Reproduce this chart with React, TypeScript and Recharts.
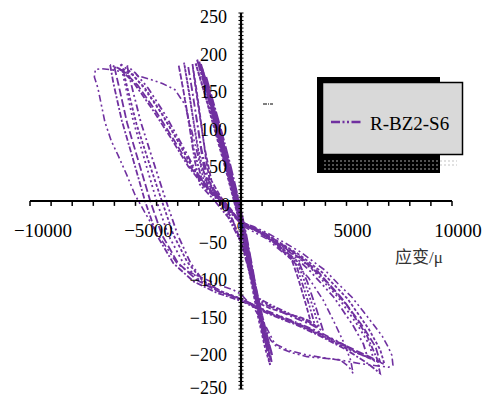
import React from "react";
import { ComposedChart, Line, XAxis, YAxis, ReferenceLine, ReferenceDot } from "recharts";

type Pt = [number, number];

const purple = "#7030A0";
const serif = "Liberation Serif, DejaVu Serif, Times New Roman, serif";

const xTickLabels = [-10000, -5000, 0, 5000, 10000];
const yTickLabels = [250, 200, 150, 100, 50, 0, -50, -100, -150, -200, -250];

// steep band: small cycles
const s1: Pt[] = [[-1650,165],[-1300,130],[-900,90],[-480,45],[-100,0],[250,-45],[580,-95],[880,-145],[1100,-185],[1000,-172],[760,-140],[430,-95],[110,-50],[-250,0],[-650,48],[-1080,95],[-1450,138],[-1650,165]];
const s2: Pt[] = [[-1850,177],[-1500,145],[-1000,95],[-560,48],[-150,0],[220,-48],[560,-100],[900,-150],[1250,-198],[1150,-185],[850,-148],[480,-100],[120,-52],[-260,0],[-700,50],[-1180,100],[-1620,150],[-1850,177]];
const s3: Pt[] = [[-1980,185],[-1620,150],[-1100,100],[-620,50],[-180,0],[200,-50],[540,-100],[920,-152],[1280,-195],[1380,-208],[1260,-192],[900,-148],[500,-100],[130,-52],[-280,0],[-760,52],[-1250,104],[-1720,158],[-1980,185]];
const s4: Pt[] = [[-2080,188],[-1700,152],[-1160,102],[-680,52],[-220,0],[170,-48],[520,-100],[900,-150],[1250,-192],[1450,-214],[1330,-196],[950,-150],[560,-100],[180,-50],[-240,0],[-720,50],[-1220,102],[-1780,160],[-2080,188]];
const s5: Pt[] = [[-1900,182],[-1560,148],[-1060,98],[-580,48],[-120,0],[260,-50],[600,-102],[960,-152],[1300,-188],[1480,-205],[1350,-192],[1000,-152],[620,-104],[230,-52],[-200,0],[-640,46],[-1120,96],[-1640,152],[-1900,182]];
const s6: Pt[] = [[-2150,183],[-1800,150],[-1300,104],[-820,55],[-350,4],[60,-45],[420,-98],[780,-150],[1150,-196],[1380,-218],[1250,-200],[850,-150],[460,-98],[90,-45],[-330,0],[-800,50],[-1320,102],[-1850,156],[-2150,183]];

// middle cycles
const m1: Pt[] = [[-2950,180],[-2720,145],[-2450,100],[-2200,55],[-1950,22],[-1300,2],[-600,-22],[0,-55],[400,-95],[750,-128],[1400,-138],[2300,-150],[3000,-158],[3500,-165],[3250,-140],[2850,-105],[2550,-80],[1600,-55],[700,-38],[0,-29],[-600,-9],[-1250,8],[-1850,28],[-2250,70],[-2550,118],[-2800,158],[-2950,180]];
const m2: Pt[] = [[-2700,184],[-2480,148],[-2230,102],[-1980,57],[-1750,24],[-1150,3],[-500,-24],[50,-58],[430,-97],[780,-130],[1450,-140],[2400,-152],[3150,-160],[3700,-168],[3420,-142],[3000,-106],[2650,-80],[1650,-56],[750,-39],[0,-30],[-550,-10],[-1150,7],[-1700,28],[-2050,72],[-2330,120],[-2570,162],[-2700,184]];
const m3: Pt[] = [[-2500,178],[-2300,145],[-2060,100],[-1820,55],[-1600,22],[-1000,2],[-400,-25],[100,-62],[470,-100],[820,-133],[1500,-142],[2500,-155],[3300,-164],[3900,-173],[3600,-146],[3150,-108],[2750,-82],[1700,-57],[800,-40],[0,-31],[-500,-11],[-1050,6],[-1550,28],[-1880,70],[-2150,118],[-2380,158],[-2500,178]];
const m4: Pt[] = [[-2300,182],[-2110,148],[-1880,102],[-1660,56],[-1450,22],[-900,0],[-350,-28],[150,-66],[500,-104],[850,-136],[1400,-143],[2200,-150],[2850,-155],[3300,-160],[3050,-135],[2700,-102],[2400,-78],[1500,-54],[650,-38],[0,-30],[-450,-12],[-950,5],[-1400,27],[-1720,70],[-1980,118],[-2200,160],[-2300,182]];

// big cycles
const b1: Pt[] = [[-5400,180],[-5200,155],[-4750,105],[-4150,52],[-3550,0],[-3000,-45],[-2400,-82],[-1800,-106],[-900,-121],[0,-131],[1200,-146],[2500,-160],[3700,-174],[4800,-190],[5500,-202],[6000,-208],[5800,-190],[5300,-165],[4400,-128],[3300,-94],[2400,-70],[1100,-44],[0,-29],[-700,-8],[-1400,12],[-2100,38],[-2800,75],[-3600,115],[-4400,150],[-5000,170],[-5400,180]];
const b2: Pt[] = [[-5700,182],[-5500,156],[-5100,106],[-4550,53],[-4000,0],[-3450,-45],[-2750,-82],[-1950,-106],[-1000,-121],[0,-132],[1200,-148],[2500,-162],[3700,-177],[4900,-193],[5800,-205],[6300,-212],[6100,-192],[5550,-166],[4600,-128],[3450,-93],[2500,-70],[1150,-44],[0,-28],[-750,-6],[-1500,15],[-2250,42],[-3000,80],[-3800,118],[-4650,152],[-5250,172],[-5700,182]];
const b3: Pt[] = [[-6000,178],[-5800,154],[-5400,104],[-4850,52],[-4300,0],[-3750,-45],[-3000,-82],[-2100,-105],[-1100,-120],[0,-130],[1250,-147],[2600,-162],[3800,-177],[5000,-193],[6000,-206],[6590,-214],[6380,-194],[5800,-168],[4800,-130],[3650,-94],[2650,-71],[1200,-44],[0,-27],[-800,-5],[-1600,17],[-2400,45],[-3200,82],[-4050,120],[-4900,154],[-5550,172],[-6000,178]];
const b4: Pt[] = [[-6200,181],[-6050,157],[-5650,107],[-5100,54],[-4550,0],[-4000,-45],[-3200,-83],[-2250,-107],[-1150,-122],[0,-133],[1300,-150],[2650,-165],[3850,-181],[5000,-198],[6000,-216],[6590,-229],[6450,-210],[5950,-178],[5000,-138],[3800,-100],[2750,-75],[1250,-47],[0,-30],[-850,-6],[-1650,16],[-2500,46],[-3350,85],[-4250,124],[-5100,158],[-5750,176],[-6200,181]];
const b5: Pt[] = [[-5600,176],[-5400,152],[-4950,102],[-4350,50],[-3750,0],[-3200,-45],[-2550,-81],[-1850,-105],[-950,-120],[0,-130],[1250,-148],[2600,-163],[3800,-179],[5000,-196],[6100,-209],[6800,-217],[6600,-198],[6050,-170],[5050,-130],[3850,-95],[2800,-72],[1250,-45],[0,-29],[-700,-7],[-1450,14],[-2200,40],[-2950,78],[-3750,116],[-4550,150],[-5150,168],[-5600,176]];

// outermost loop and first large excursion
const x1: Pt[] = [[0,-28],[-800,-2],[-1500,22],[-2000,55],[-2350,95],[-2650,128],[-3130,148],[-3700,156],[-4220,161],[-4800,166],[-5360,170],[-6000,174],[-6600,176],[-6900,175],[-6950,165],[-6780,150],[-6620,128],[-6450,105],[-6150,80],[-5830,61],[-5420,35],[-5020,8],[-4500,-18],[-3980,-43],[-3500,-63],[-3030,-83],[-2500,-94],[-1940,-101],[-1200,-110],[-380,-118],[0,-124],[600,-142],[1200,-168],[1600,-190],[2200,-198],[3000,-204],[3800,-208],[4800,-212],[5600,-216],[6400,-219],[7000,-221],[7200,-218],[7150,-205],[6970,-194],[6700,-180],[6350,-167],[5800,-147],[5260,-128],[4600,-110],[3980,-92],[3400,-80],[2890,-69],[2100,-56],[1280,-43],[600,-34],[0,-28]];
const x2: Pt[] = [[-1900,180],[-1000,95],[-200,0],[500,-100],[1000,-160],[1400,-185],[1700,-194],[2420,-202],[3130,-207],[3900,-209],[4690,-211],[5100,-220],[5310,-229],[5200,-212],[4900,-190],[4400,-160],[3900,-132],[3200,-102],[2400,-78],[1200,-50],[0,-32]];

const series: { id: string; pts: Pt[]; dash: string; w: number }[] = [
  { id: "b1", pts: b1, dash: "7 3 2 3 2 3", w: 1.8 },
  { id: "b2", pts: b2, dash: "2 3", w: 1.8 },
  { id: "b3", pts: b3, dash: "8 3", w: 1.8 },
  { id: "b4", pts: b4, dash: "6 2 2 2", w: 1.8 },
  { id: "b5", pts: b5, dash: "3 2", w: 1.8 },
  { id: "x1", pts: x1, dash: "7 3 2 3 2 3", w: 1.6 },
  { id: "x2", pts: x2, dash: "7 3 2 3 2 3", w: 1.6 },
  { id: "m1", pts: m1, dash: "6 2 2 2 2 2", w: 1.8 },
  { id: "m2", pts: m2, dash: "2 2", w: 1.8 },
  { id: "m3", pts: m3, dash: "8 3 2 3", w: 1.8 },
  { id: "m4", pts: m4, dash: "5 2", w: 1.8 },
  { id: "s1", pts: s1, dash: "12 2 2 2", w: 2 },
  { id: "s2", pts: s2, dash: "12 2 2 2", w: 2 },
  { id: "s3", pts: s3, dash: "10 2", w: 2 },
  { id: "s4", pts: s4, dash: "12 2 2 2", w: 2 },
  { id: "s5", pts: s5, dash: "10 2", w: 2 },
  { id: "s6", pts: s6, dash: "3 2", w: 2 },
];

const xMinor = Array.from({ length: 21 }, (_, i) => -10000 + i * 1000);
const yMinor = Array.from({ length: 101 }, (_, i) => -250 + i * 5);

const fmt = (v: number) => (v < 0 ? "\u2212" + Math.abs(v) : String(v));

const textStyle = { fontFamily: serif };

export default function App() {
  return (
    <div style={{ position: "relative", width: 474, height: 390, background: "#fff" }}>
      <ComposedChart
        width={474}
        height={390}
        margin={{ top: 5, right: 30, bottom: 9, left: 22 }}
        style={{ overflow: "visible" }}
      >
        <XAxis type="number" dataKey="x" domain={[-10000, 10000]} hide allowDataOverflow />
        <YAxis type="number" dataKey="y" domain={[-250, 250]} hide allowDataOverflow />
        {series.map((s) => (
          <Line
            key={s.id}
            data={s.pts.map(([x, y]) => ({ x, y }))}
            dataKey="y"
            type="linear"
            stroke={purple}
            strokeWidth={s.w}
            strokeDasharray={s.dash}
            dot={false}
            activeDot={false}
            isAnimationActive={false}
          />
        ))}
        <ReferenceLine x={0} stroke="#000" strokeWidth={2.2} />
        <ReferenceLine y={0} stroke="#000" strokeWidth={2.2} />
        {xMinor.map((v) => (
          <ReferenceLine key={"xt" + v} segment={[{ x: v, y: 0 }, { x: v, y: -6.5 }]} stroke="#000" strokeWidth={1.5} />
        ))}
        {yMinor.map((v) => (
          <ReferenceLine key={"yt" + v} segment={[{ x: -120, y: v }, { x: 120, y: v }]} stroke="#000" strokeWidth={1} />
        ))}
        {xTickLabels.map((v) => (
          <ReferenceDot
            key={"xl" + v}
            x={v}
            y={0}
            r={0}
            shape={(p: any) => (
              <text
                x={p.cx + (v < 0 ? 13 : v === 0 ? -1 : 6)}
                y={p.cy + (v === 0 ? 29 : 36)}
                textAnchor="middle"
                style={textStyle}
                fontSize={v === 0 ? 12 : 19}
                fill="#000"
              >
                {fmt(v)}
              </text>
            )}
          />
        ))}
        {yTickLabels.map((v) => (
          <ReferenceDot
            key={"yl" + v}
            x={0}
            y={v}
            r={0}
            shape={(p: any) => (
              <text
                x={p.cx - (v === 0 ? 11 : 14)}
                y={p.cy + (v === -250 ? 5 : 10)}
                textAnchor="end"
                style={textStyle}
                fontSize={18}
                fill="#000"
              >
                {fmt(v)}
              </text>
            )}
          />
        ))}
      </ComposedChart>
      <svg width={474} height={390} style={{ position: "absolute", left: 0, top: 0, pointerEvents: "none" }}>
        <defs>
          <pattern id="dots" width="4" height="4" patternUnits="userSpaceOnUse">
            <rect width="4" height="4" fill="#000" />
            <circle cx="1" cy="1" r="0.8" fill="#bbb" />
          </pattern>
          <pattern id="dots2" width="4" height="4" patternUnits="userSpaceOnUse">
            <circle cx="1" cy="1" r="0.7" fill="#aaa" />
          </pattern>
        </defs>
        <rect x={309} y={69} width={123} height={96} fill="#000" />
        <rect x={314} y={150} width={118} height={12} fill="url(#dots)" />
        <rect x={432} y={150} width={17} height={10} fill="url(#dots2)" />
        <rect x={314.5} y={74.5} width={140} height={72} fill="#d9d9d9" stroke="#000" strokeWidth={1.5} />
        <line x1={323} y1={114} x2={355} y2={114} stroke={purple} strokeWidth={2.5} strokeDasharray="9 2.5 2 2.5 2 2.5" />
        <text x={362} y={122} style={textStyle} fontSize={19} fill="#000">R-BZ2-S6</text>
        <line x1={255} y1={96} x2={265} y2={96} stroke="#000" strokeWidth={1} strokeDasharray="4 1 1 1" />
        <text x={387} y={255} style={{ fontFamily: "Liberation Serif, Noto Sans CJK SC, serif" }} fontSize={17} fill="#333">
          应变/μ
        </text>
      </svg>
    </div>
  );
}
